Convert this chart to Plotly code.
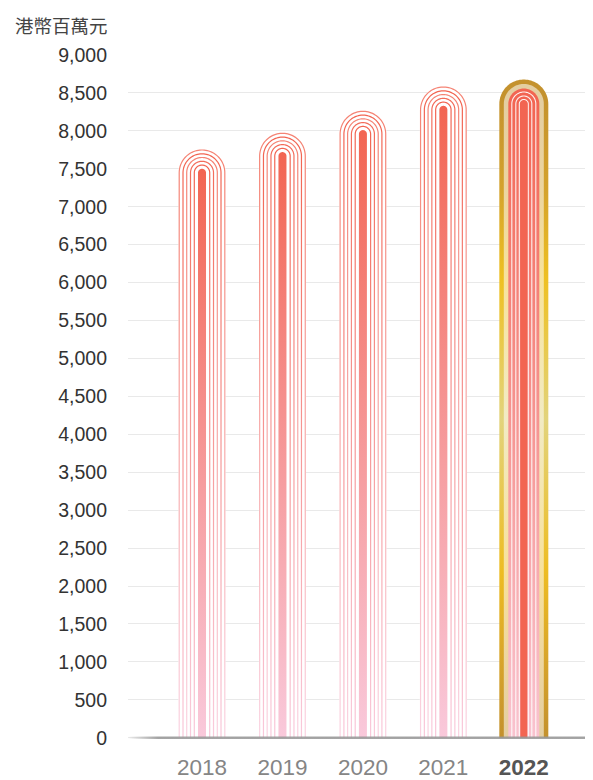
import numpy as np
import plotly.graph_objects as go

# ---------------- data ----------------
years = [2018, 2019, 2020, 2021, 2022]
values = [7500, 7720, 8010, 8330, 8400]          # HK$ millions
x_tick_labels = ["2018", "2019", "2020", "2021",
                 '<span style="color:#555555"><b>2022</b></span>']
y_ticks = list(range(0, 9001, 500))
y_tick_labels = [f"{v:,}" for v in y_ticks]
y_title = "港幣百萬元"
highlight_year = 2022

# ---------------- geometry / style ----------------
# page body has an 8px margin, so the figure is 8px smaller than the window
W, H = 585, 772
M_L, M_R, M_T, M_B = 120, 0, 47, 40
X_RANGE = [2017.08, 2022.86]
Y_RANGE = [-30, 9000]
plot_w = W - M_L - M_R
plot_h = H - M_T - M_B
kx = plot_w / (X_RANGE[1] - X_RANGE[0])   # px per x unit
ky = plot_h / (Y_RANGE[1] - Y_RANGE[0])   # px per y unit

RED = "#F26552"
PINK = "#F9C9DB"
line_scale = [[0, PINK], [1, RED]]

gold_scale = [[0.0, "#C3912E"], [0.12, "#D7A42B"], [0.26, "#EDBC22"],
              [0.5, "#E2D37C"], [0.72, "#EEC022"], [0.86, "#D4A22C"],
              [1.0, "#C4922E"]]


def lighten(hexc, f):
    hexc = hexc.lstrip("#")
    r, g, b = (int(hexc[i:i + 2], 16) for i in (0, 2, 4))
    r = round(r + (255 - r) * f)
    g = round(g + (255 - g) * f)
    b = round(b + (255 - b) * f)
    return f"#{r:02X}{g:02X}{b:02X}"


cream_scale = [[s, lighten(c, 0.55)] for s, c in gold_scale]


def arch_path(cx, cy, r_out, r_in=None, n=48):
    """Closed outline of an arch (rounded top) from y=0, radii in px."""
    t = np.linspace(np.pi, 0, n)
    xs = [cx - r_out / kx, cx - r_out / kx]
    ys = [0, cy]
    xs += list(cx + r_out * np.cos(t) / kx)
    ys += list(cy + r_out * np.sin(t) / ky)
    xs += [cx + r_out / kx, cx + r_out / kx]
    ys += [cy, 0]
    if r_in is not None:
        t2 = np.linspace(0, np.pi, n)
        xs += [cx + r_in / kx, cx + r_in / kx]
        ys += [0, cy]
        xs += list(cx + r_in * np.cos(t2) / kx)
        ys += list(cy + r_in * np.sin(t2) / ky)
        xs += [cx - r_in / kx, cx - r_in / kx]
        ys += [cy, 0]
    xs.append(xs[0])
    ys.append(ys[0])
    return xs, ys


fig = go.Figure()


def add_shape(xs, ys, color=None, scale=None, stop=None, opacity=1.0):
    kw = dict(x=xs, y=ys, mode="none", fill="toself", hoverinfo="skip",
              showlegend=False, opacity=opacity)
    if scale is not None:
        kw["fillgradient"] = dict(type="vertical", colorscale=scale,
                                  start=0, stop=stop)
        kw["fillcolor"] = scale[-1][1]
    else:
        kw["fillcolor"] = color
    fig.add_trace(go.Scatter(**kw))


ring_radii = [7.7, 11.5, 15.3, 19.0, 22.8]
ring_opac = [1.0, 0.95, 0.8, 1.0, 0.8]
ring_w = 1.2

for yr, v in zip(years, values):
    if yr != highlight_year:
        cy = v - 4 / ky
        # white backing (hides grid lines)
        xs, ys = arch_path(yr, cy, 23.6)
        add_shape(xs, ys, color="white")
        for r, op in zip(ring_radii, ring_opac):
            xs, ys = arch_path(yr, cy, r + ring_w / 2, r - ring_w / 2)
            add_shape(xs, ys, scale=line_scale, stop=v, opacity=op)
        xs, ys = arch_path(yr, cy, 4.0)
        add_shape(xs, ys, scale=line_scale, stop=v)
    else:
        cy = v - 3.5 / ky
        xs, ys = arch_path(yr, cy, 24.5)
        add_shape(xs, ys, scale=gold_scale, stop=v)
        xs, ys = arch_path(yr, cy, 20.0)
        add_shape(xs, ys, scale=cream_scale, stop=v)
        xs, ys = arch_path(yr, cy, 15.5)
        add_shape(xs, ys, scale=[[0, "#F9C3CF"], [1, RED]], stop=v)
        for r in [12.0, 8.0, 4.5]:
            xs, ys = arch_path(yr, cy, r + 0.55, r - 0.55)
            add_shape(xs, ys, color="rgba(255,255,255,0.9)")
        xs, ys = arch_path(yr, cy, 3.5)
        add_shape(xs, ys, color=RED)

# baseline with fading left end
bh = 1.3 / ky
fig.add_trace(go.Scatter(
    x=[X_RANGE[0], X_RANGE[1], X_RANGE[1], X_RANGE[0], X_RANGE[0]],
    y=[-bh, -bh, bh, bh, -bh], mode="none", fill="toself",
    fillcolor="rgba(150,150,150,0.85)",
    fillgradient=dict(type="horizontal",
                      colorscale=[[0, "rgba(150,150,150,0)"],
                                  [1, "rgba(150,150,150,0.85)"]],
                      start=X_RANGE[0], stop=X_RANGE[0] + 30 / kx),
    hoverinfo="skip", showlegend=False))

FONT = "Liberation Sans, Arial, Helvetica, sans-serif"

fig.update_layout(
    width=W, height=H,
    margin=dict(l=M_L, r=M_R, t=M_T, b=M_B, pad=0),
    paper_bgcolor="white", plot_bgcolor="white",
    showlegend=False,
    font=dict(family=FONT),
    xaxis=dict(range=X_RANGE, tickvals=years, ticktext=x_tick_labels,
               showgrid=False, zeroline=False, showline=False,
               ticks="", ticklabelstandoff=11,
               tickfont=dict(size=22.5, color="#858585", family=FONT),
               fixedrange=True),
    yaxis=dict(range=Y_RANGE, tickvals=y_ticks, ticktext=y_tick_labels,
               showgrid=True, gridcolor="#E9E9E9", gridwidth=1,
               zeroline=False, showline=False, ticks="",
               ticklabelstandoff=20,
               tickfont=dict(size=19.5, color="#333333", family=FONT),
               fixedrange=True),
    annotations=[dict(text=y_title, xref="paper", yref="paper",
                      x=-M_L / plot_w + 5 / plot_w, y=1 + 30 / plot_h,
                      xanchor="left", yanchor="middle", showarrow=False,
                      font=dict(size=18.5, color="#444444",
                                family="Noto Sans CJK TC, sans-serif"))],
)

fig.write_html("out.html")
